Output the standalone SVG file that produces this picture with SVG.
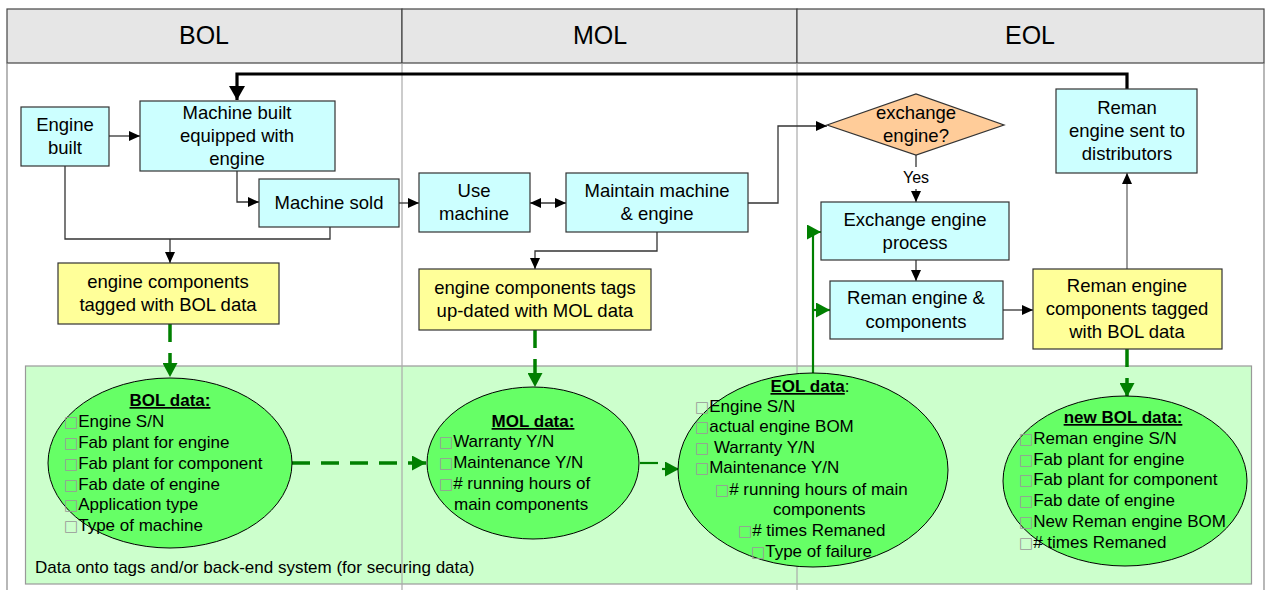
<svg xmlns="http://www.w3.org/2000/svg" width="1267" height="590" viewBox="0 0 1267 590">
<style>
text{font-family:"Liberation Sans",Arial,sans-serif;fill:#000}
.hd{font-size:25px;text-anchor:middle}
.nt{font-size:18.5px;text-anchor:middle}
.lt{font-size:17px}
.tt{font-size:17px;font-weight:bold;text-decoration:underline;text-anchor:middle}
.bx{fill:#999;font-size:15px;font-family:"DejaVu Sans",sans-serif}
.cy{fill:#ccffff;stroke:#333;stroke-width:1.2}
.ye{fill:#ffff99;stroke:#333;stroke-width:1.2}
.el{fill:#66ff66;stroke:#000;stroke-width:1}
.ln{fill:none;stroke:#333;stroke-width:1.3}
.gl{fill:none;stroke:#008000;stroke-width:2.2}
.gd{fill:none;stroke:#008000;stroke-width:3.5;stroke-dasharray:18 11}
.lane{stroke:#aaa;stroke-width:1.2}
</style>
<defs>
<marker id="a" markerUnits="userSpaceOnUse" markerWidth="11" markerHeight="10" refX="11" refY="5" orient="auto-start-reverse"><path d="M0,0 L11,5 L0,10 z" fill="#000"/></marker>
<marker id="ab" markerUnits="userSpaceOnUse" markerWidth="14" markerHeight="16" refX="14" refY="8" orient="auto"><path d="M0,0 L14,8 L0,16 z" fill="#000"/></marker>
<marker id="ag" markerUnits="userSpaceOnUse" markerWidth="14" markerHeight="15" refX="14" refY="7.5" orient="auto"><path d="M0,0 L14,7.5 L0,15 z" fill="#008000"/></marker>
</defs>

<g id="lanes">
<rect x="7" y="9" width="395" height="54" fill="#e6e6e6" stroke="#444" stroke-width="1.2"/>
<rect x="402" y="9" width="395" height="54" fill="#e6e6e6" stroke="#444" stroke-width="1.2"/>
<rect x="797" y="9" width="467" height="54" fill="#e6e6e6" stroke="#444" stroke-width="1.2"/>
<text class="hd" x="204" y="44">BOL</text>
<text class="hd" x="600" y="44">MOL</text>
<text class="hd" x="1030" y="44">EOL</text>
<line x1="7" y1="63" x2="7" y2="590" stroke="#888" stroke-width="1.2"/>
<line x1="1264" y1="63" x2="1264" y2="590" stroke="#888" stroke-width="1.2"/>
</g>

<g id="data-area">
<rect x="25.5" y="366" width="1226" height="218" fill="#ccffcc" stroke="#999" stroke-width="1.2"/>
<text x="35" y="573" font-size="17px">Data onto tags and/or back-end system (for securing data)</text>
</g>
<line class="lane" x1="402" y1="63" x2="402" y2="590"/>
<line class="lane" x1="797" y1="63" x2="797" y2="590"/>

<g id="connectors">
<path d="M1127,89 V74 H237 V100" fill="none" stroke="#000" stroke-width="3.2" marker-end="url(#ab)"/>
<path class="ln" d="M109,136 H140" marker-end="url(#a)"/>
<path class="ln" d="M237,171 V202 H259" marker-end="url(#a)"/>
<path class="ln" d="M399,203 H419" marker-end="url(#a)"/>
<path class="ln" d="M65,166 V239 H330 V227"/>
<path class="ln" d="M170,239 V263" marker-end="url(#a)"/>
<path class="ln" d="M530,203 H566" marker-start="url(#a)" marker-end="url(#a)"/>
<path class="ln" d="M748,203 H778 V126 H827" marker-end="url(#a)"/>
<path class="ln" d="M657,232 V251 H535 V269" marker-end="url(#a)"/>
<path class="ln" d="M916,155 V167"/>
<path class="ln" d="M916,189 V202" marker-end="url(#a)"/>
<text x="916" y="183" font-size="16px" text-anchor="middle">Yes</text>
<path class="ln" d="M916,260 V281" marker-end="url(#a)"/>
<path class="ln" d="M1003,310 H1033" marker-end="url(#a)"/>
<path d="M1127,269 V173" fill="none" stroke="#666" stroke-width="1.3" marker-end="url(#a)"/>
<path class="gd" d="M170,324 V377" marker-end="url(#ag)"/>
<path class="gd" d="M535,330 V387" marker-end="url(#ag)"/>
<path class="gd" d="M1127,349 V397" marker-end="url(#ag)"/>
<path class="gd" d="M292,463 H426" marker-end="url(#ag)"/>
<path class="gl" stroke-width="3.5" d="M640,463 H658"/>
<path class="gl" stroke-width="3.5" d="M662,469 H679" marker-end="url(#ag)"/>
<path class="gl" d="M813,373 V232 H821" marker-end="url(#ag)"/>
<path class="gl" d="M813,310 H830" marker-end="url(#ag)"/>
</g>

<g id="engine-built">
<rect class="cy" x="21" y="107" width="88" height="59"/>
<text class="nt" x="65" y="131">Engine</text>
<text class="nt" x="65" y="154">built</text>
</g>
<g id="machine-built">
<rect class="cy" x="140" y="101" width="195" height="70"/>
<text class="nt" x="237" y="119">Machine built</text>
<text class="nt" x="237" y="142">equipped with</text>
<text class="nt" x="237" y="165">engine</text>
</g>
<g id="machine-sold">
<rect class="cy" x="259" y="179" width="140" height="48"/>
<text class="nt" x="329" y="209">Machine sold</text>
</g>
<g id="bol-tagged">
<rect class="ye" x="58" y="263" width="221" height="61"/>
<text class="nt" x="168" y="288">engine components</text>
<text class="nt" x="168" y="311">tagged with BOL data</text>
</g>
<g id="use-machine">
<rect class="cy" x="419" y="173" width="111" height="59"/>
<text class="nt" x="474" y="197">Use</text>
<text class="nt" x="474" y="220">machine</text>
</g>
<g id="maintain">
<rect class="cy" x="566" y="173" width="182" height="59"/>
<text class="nt" x="657" y="197">Maintain machine</text>
<text class="nt" x="657" y="220">&amp; engine</text>
</g>
<g id="mol-tagged">
<rect class="ye" x="419" y="269" width="232" height="61"/>
<text class="nt" x="535" y="294">engine components tags</text>
<text class="nt" x="535" y="317">up-dated with MOL data</text>
</g>
<g id="exchange-decision">
<polygon points="827,125 916,94 1004,125 916,155" fill="#ffcc99" stroke="#333" stroke-width="1.2"/>
<text class="nt" x="916" y="119">exchange</text>
<text class="nt" x="916" y="142">engine?</text>
</g>
<g id="exchange-process">
<rect class="cy" x="821" y="202" width="188" height="58"/>
<text class="nt" x="915" y="226">Exchange engine</text>
<text class="nt" x="915" y="249">process</text>
</g>
<g id="reman-components">
<rect class="cy" x="830" y="281" width="173" height="58"/>
<text class="nt" x="916" y="304">Reman engine &amp;</text>
<text class="nt" x="916" y="328">components</text>
</g>
<g id="reman-tagged">
<rect class="ye" x="1033" y="269" width="189" height="80"/>
<text class="nt" x="1127" y="292">Reman engine</text>
<text class="nt" x="1127" y="315">components tagged</text>
<text class="nt" x="1127" y="338">with BOL data</text>
</g>
<g id="reman-sent">
<rect class="cy" x="1056" y="89" width="141" height="84"/>
<text class="nt" x="1127" y="114">Reman</text>
<text class="nt" x="1127" y="137">engine sent to</text>
<text class="nt" x="1127" y="160">distributors</text>
</g>

<g id="bol-data">
<ellipse class="el" cx="170" cy="463" rx="122" ry="85"/>
<text class="tt" x="170" y="406">BOL data:</text>
<text class="lt" x="64" y="427"><tspan class="bx">□</tspan>Engine S/N</text>
<text class="lt" x="64" y="448"><tspan class="bx">□</tspan>Fab plant for engine</text>
<text class="lt" x="64" y="469"><tspan class="bx">□</tspan>Fab plant for component</text>
<text class="lt" x="64" y="490"><tspan class="bx">□</tspan>Fab date of engine</text>
<text class="lt" x="64" y="510"><tspan class="bx">□</tspan>Application type</text>
<text class="lt" x="64" y="531"><tspan class="bx">□</tspan>Type of machine</text>
</g>
<g id="mol-data">
<ellipse class="el" cx="533" cy="463" rx="106" ry="76"/>
<text class="tt" x="533" y="427">MOL data:</text>
<text class="lt" x="439" y="447"><tspan class="bx">□</tspan>Warranty Y/N</text>
<text class="lt" x="439" y="468"><tspan class="bx">□</tspan>Maintenance Y/N</text>
<text class="lt" x="439" y="489"><tspan class="bx">□</tspan># running hours of</text>
<text class="lt" x="454" y="510">main components</text>
</g>
<g id="eol-data">
<ellipse class="el" cx="813" cy="470" rx="135" ry="97"/>
<text x="810" y="392" font-size="17px" text-anchor="middle"><tspan font-weight="bold" text-decoration="underline">EOL data</tspan>:</text>
<text class="lt" x="695" y="412"><tspan class="bx">□</tspan>Engine S/N</text>
<text class="lt" x="695" y="432"><tspan class="bx">□</tspan>actual engine BOM</text>
<text class="lt" x="695" y="453"><tspan class="bx">□</tspan> Warranty Y/N</text>
<text class="lt" x="695" y="473"><tspan class="bx">□</tspan>Maintenance Y/N</text>
<text class="lt" x="715" y="495"><tspan class="bx">□</tspan># running hours of main</text>
<text class="lt" x="773" y="515">components</text>
<text class="lt" x="738" y="536"><tspan class="bx">□</tspan># times Remaned</text>
<text class="lt" x="751" y="557"><tspan class="bx">□</tspan>Type of failure</text>
</g>
<g id="new-bol-data">
<ellipse class="el" cx="1125" cy="481" rx="122" ry="85"/>
<text class="tt" x="1123" y="423">new BOL data:</text>
<text class="lt" x="1019" y="444"><tspan class="bx">□</tspan>Reman engine S/N</text>
<text class="lt" x="1019" y="465"><tspan class="bx">□</tspan>Fab plant for engine</text>
<text class="lt" x="1019" y="485"><tspan class="bx">□</tspan>Fab plant for component</text>
<text class="lt" x="1019" y="506"><tspan class="bx">□</tspan>Fab date of engine</text>
<text class="lt" x="1019" y="527"><tspan class="bx">□</tspan>New Reman engine BOM</text>
<text class="lt" x="1019" y="548"><tspan class="bx">□</tspan># times Remaned</text>
</g>
</svg>
